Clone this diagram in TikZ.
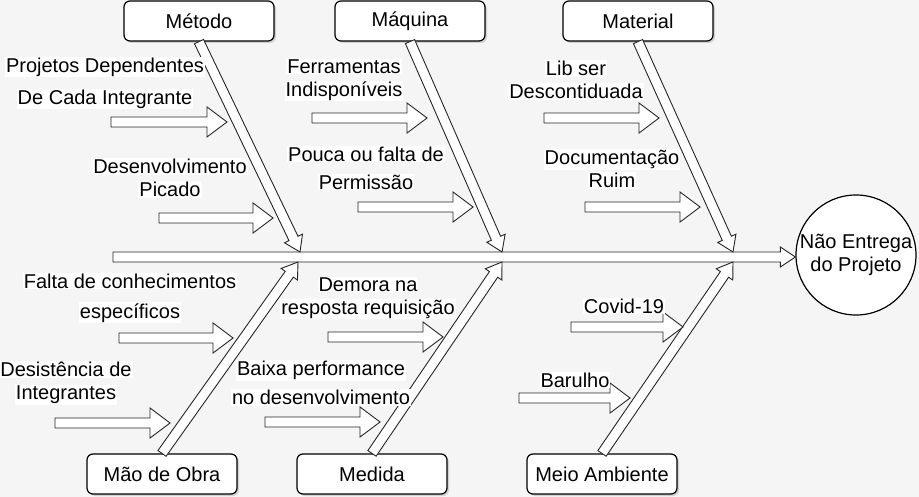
\documentclass[tikz,border=0pt]{standalone}
\usepackage{fontspec}
\setmainfont{Liberation Sans}
\usetikzlibrary{calc,shadows}
\definecolor{fundo}{RGB}{245,245,245}
%% hollow arrow: from, to, body half width, head half width, head length
\newcommand\fatarrow[5]{%
  \draw[arrowline] let \p1=($(#2)-(#1)$), \n1={atan2(\y1,\x1)}, \n2={veclen(\x1,\y1)} in
    [shift={(#1)},rotate=\n1]
    (0,#3) -- ({\n2-#5},#3) -- ({\n2-#5},#4) -- (\n2,0) -- ({\n2-#5},-#4) -- ({\n2-#5},-#3) -- (0,-#3) -- cycle;}
%% white background behind one line of text
\newcommand\lbg[1]{{\setlength\fboxsep{1pt}\colorbox{white}{#1}}}

\begin{document}
\begin{tikzpicture}[x=1pt,y=-1pt,
    font=\fontsize{20}{23}\selectfont,
    catbox/.style={draw=black,line width=1.2pt,rounded corners=6pt,fill=white,minimum width=150pt,minimum height=40pt,
      drop shadow={shadow xshift=2pt,shadow yshift=-2pt,opacity=.3}},
    effnode/.style={draw=black,line width=1.2pt,circle,fill=white,minimum size=120pt,inner sep=0pt,align=center},
    causetext/.style={inner sep=0pt,align=center},
    arrowline/.style={draw=black!85,line width=.9pt,fill=white}]

  %%%% Background and bounding box %%%%
  \fill[fundo] (0,0) rectangle (919,497);
  \useasboundingbox (0,0) rectangle (919,497);

  %% Categories
  \node[catbox] (met) at (199,21) {Método};
  \node[catbox] (maq) at (410,21) {Máquina};
  \node[catbox] (mat) at (638,21) {Material};
  \node[catbox] (mao) at (162,474) {Mão de Obra};
  \node[catbox] (med) at (372,474) {Medida};
  \node[catbox] (amb) at (602,474) {Meio Ambiente};

  %% Effect
  \node[effnode] (efeito) at (856,255) {Não Entrega\\do Projeto};

  %% Spine
  \coordinate (spineStart) at (113,257);
  \coordinate (spineEnd) at (spineStart -| efeito.west);
  \fatarrow{spineStart}{spineEnd}{5}{10}{15}

  %% Bones
  \foreach \cat/\tx/\ty in {met/300/252,maq/502/252,mat/733/252,mao/298/262,med/502/262,amb/733/262}{
    \coordinate (\cat Tip) at (\tx,\ty);
  }
  \foreach \cat in {met,maq,mat}{\fatarrow{\cat.south}{\cat Tip}{5}{10}{15}}
  \foreach \cat in {mao,med,amb}{\fatarrow{\cat.north}{\cat Tip}{5}{10}{15}}

  %% Causes: start / tip / height
  \foreach \a/\b/\y [count=\i] in {111/227/122,159/273/218,312/427/118,358/473/207,544/659/118,585/700/207,
      119/233/338,55/170/423,328/443/337,265/380/422,571/683/327,519/630/398}{
    \coordinate (cause\i a) at (\a,\y);
    \coordinate (cause\i b) at (\b,\y);
    \fatarrow{cause\i a}{cause\i b}{5}{15}{20}
  }

  %% Cause labels
  \node[causetext] (t1) at (105,83) {\lbg{Projetos Dependentes}\\[9pt]\lbg{De Cada Integrante}};
  \node[causetext] (t2) at (170,178) {\lbg{Desenvolvimento}\\\lbg{Picado}};
  \node[causetext] (t3) at (344,80) {\lbg{Ferramentas}\\\lbg{Indisponíveis}};
  \node[causetext] (t4) at (366,168) {\lbg{Pouca ou falta de}\\[5pt]\lbg{Permissão}};
  \node[causetext] (t5) at (576,80) {\lbg{Lib ser}\\\lbg{Descontiduada}};
  \node[causetext] (t6) at (612,169) {\lbg{Documentação}\\\lbg{Ruim}};
  \node[causetext] (t7) at (130,298) {\lbg{Falta de conhecimentos}\\[7pt]\lbg{específicos}};
  \node[causetext] (t8) at (66,383) {\lbg{Desistência de}\\\lbg{Integrantes}};
  \node[causetext] (t9) at (368,298) {\lbg{Demora na}\\\lbg{resposta requisição}};
  \node[causetext] (t10) at (321,383) {\lbg{Baixa performance}\\[6pt]\lbg{no desenvolvimento}};
  \node[causetext] (t11) at (624,306) {\lbg{Covid-19}};
  \node[causetext] (t12) at (575,380) {\lbg{Barulho}};

\end{tikzpicture}
\end{document}
